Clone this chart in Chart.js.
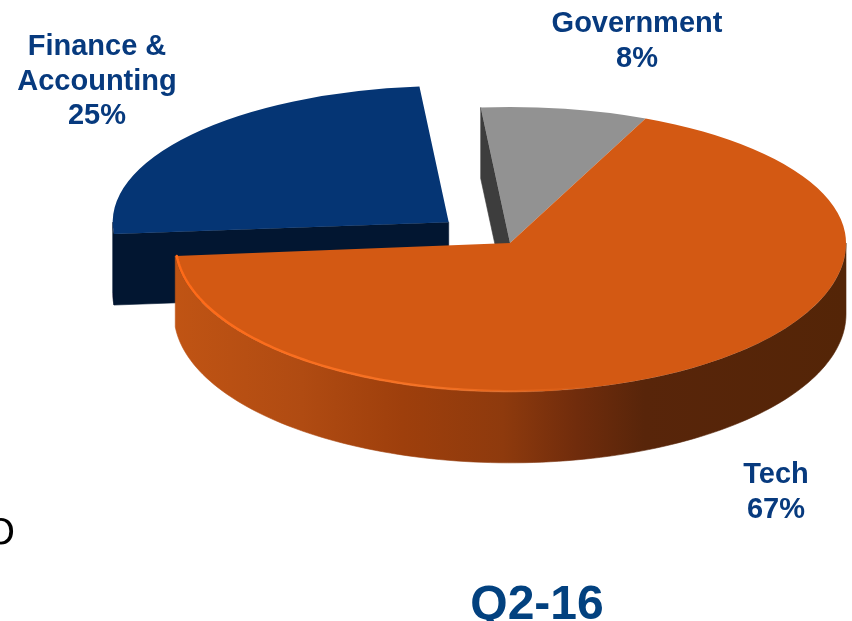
<!DOCTYPE html>
<html>
<head>
<meta charset="utf-8">
<title>Q2-16</title>
<script src="https://cdn.jsdelivr.net/npm/chart.js@4"></script>
<style>
  html, body { margin: 0; background: #fff; overflow: hidden; }
  canvas { display: block; }
</style>
</head>
<body>
<canvas id="pie" width="852" height="621"></canvas>
<script>
// chart data
const categories = ["Finance & Accounting", "Government", "Tech"]
const categoryLines = [["Finance &", "Accounting"], ["Government"], ["Tech"]]
const shares = [25, 8, 67]
const period = "Q2-16"

// look of the tilted pie
const topColors = ["#053574", "#929292", "#d35913"]
const wallColors = ["#021631", "#3d3d3d", null]
const labelFont = "bold 29px 'Liberation Sans', Arial, sans-serif"
const labelColor = "#073a7e"
const pieX = 510
const pieY = 243
const backTilt = 0.405 // y squash above the centre
const frontTilt = 0.443 // y squash below the centre, slightly more open
const depth = 71

// point on a slice, in page pixels
function rimPoint(arc, angle, radius) {
  const shift = (arc.options.offset || 0) / 4
  const mid = (arc.startAngle + arc.endAngle) / 2
  const flatY = Math.sin(mid) * shift + Math.sin(angle) * radius
  return {
    x: pieX + Math.cos(mid) * shift + Math.cos(angle) * radius,
    y: pieY + flatY * (flatY < 0 ? backTilt : frontTilt),
  }
}

function techWallGradient(ctx) {
  const g = ctx.createLinearGradient(174, 0, 846, 0)
  g.addColorStop(0, "#c05414")
  g.addColorStop(0.19, "#b04b12")
  g.addColorStop(0.34, "#9e3f0c")
  g.addColorStop(0.49, "#8e3a0d")
  g.addColorStop(0.6, "#702c0c")
  g.addColorStop(0.7, "#58250a")
  g.addColorStop(1, "#542507")
  return g
}

function fillPolygon(ctx, points, fill) {
  ctx.beginPath()
  points.forEach((p, i) => (i ? ctx.lineTo(p.x, p.y) : ctx.moveTo(p.x, p.y)))
  ctx.closePath()
  ctx.fillStyle = fill
  ctx.fill()
  ctx.strokeStyle = fill
  ctx.lineWidth = 0.6
  ctx.stroke()
}

// side faces of one slice: the cut edge and the round rim that look forward
function drawWalls(ctx, arc, fill) {
  const start = arc.startAngle
  const end = arc.endAngle
  const r = arc.outerRadius

  if (-Math.cos(start) > 0) {
    const a = rimPoint(arc, start, 0)
    const b = rimPoint(arc, start, r)
    fillPolygon(ctx, [a, b, { x: b.x, y: b.y + depth }, { x: a.x, y: a.y + depth }], fill)
  }

  // arc angles keep counting past a full turn, so the front half shows up twice
  const fronts = [0, 2 * Math.PI]
  fronts.forEach((f) => {
    const from = Math.max(start, f)
    const to = Math.min(end, f + Math.PI)
    if (to <= from) return
    const upper = []
    const lower = []
    for (let i = 0; i <= 120; i++) {
      const p = rimPoint(arc, from + ((to - from) * i) / 120, r)
      upper.push(p)
      lower.unshift({ x: p.x, y: p.y + depth })
    }
    fillPolygon(ctx, upper.concat(lower), fill)
  })
}

// thin light edge on the front left of the big slice
function drawHighlight(ctx, arc) {
  const g = ctx.createLinearGradient(174, 0, 600, 0)
  g.addColorStop(0, "rgba(255,106,24,1)")
  g.addColorStop(0.6, "rgba(255,120,40,0.75)")
  g.addColorStop(1, "rgba(255,120,40,0)")
  ctx.beginPath()
  for (let deg = 175; deg >= 70; deg--) {
    const p = rimPoint(arc, (deg * Math.PI) / 180, arc.outerRadius - 1.5)
    deg === 175 ? ctx.moveTo(p.x, p.y) : ctx.lineTo(p.x, p.y)
  }
  ctx.strokeStyle = g
  ctx.lineWidth = 2.5
  ctx.lineCap = "round"
  ctx.stroke()
}

// the pie is a normal doughnut controller layout, squashed when painted
const tiltedPie = {
  id: "tiltedPie",
  beforeDatasetsDraw(chart) {
    const ctx = chart.ctx
    const arcs = chart.getDatasetMeta(0).data
    arcs.forEach((arc, i) => {
      drawWalls(ctx, arc, wallColors[i] || techWallGradient(ctx))
    })
    const halves = [
      { y: 0, h: pieY, tilt: backTilt },
      { y: pieY, h: chart.height - pieY, tilt: frontTilt },
    ]
    halves.forEach((half) => {
      ctx.save()
      ctx.beginPath()
      ctx.rect(0, half.y, chart.width, half.h)
      ctx.clip()
      ctx.translate(pieX, pieY)
      ctx.scale(1, half.tilt)
      ctx.translate(-arcs[0].x, -arcs[0].y)
      arcs.forEach((arc) => arc.draw(ctx))
      ctx.restore()
    })
    drawHighlight(ctx, arcs[2])
    return false
  },
  afterDraw(chart) {
    const ctx = chart.ctx
    const spots = [
      { x: 97, y: 47 },
      { x: 637, y: 24 },
      { x: 776, y: 475 },
    ]
    ctx.save()
    ctx.textAlign = "center"
    ctx.textBaseline = "middle"
    ctx.font = labelFont
    ctx.fillStyle = labelColor
    categoryLines.forEach((lines, i) => {
      lines.concat(shares[i] + "%").forEach((line, n) => {
        ctx.fillText(line, spots[i].x, spots[i].y + n * 34.5)
      })
    })
    ctx.textBaseline = "alphabetic"
    ctx.font = "bold 48px 'Liberation Sans', Arial, sans-serif"
    ctx.fillStyle = "#02417f"
    ctx.fillText(period, 537, 619)
    // stray letter cut by the left edge
    ctx.font = "36px 'DejaVu Sans', sans-serif"
    ctx.fillStyle = "#000"
    ctx.textAlign = "right"
    ctx.fillText("O", 15, 544)
    ctx.restore()
  },
}

new Chart(document.querySelector("#pie"), {
  type: "pie",
  data: {
    labels: categories,
    datasets: [
      {
        data: shares,
        backgroundColor: topColors,
        borderWidth: 0,
        offset: [320, 0, 0],
        clip: false,
      },
    ],
  },
  options: {
    responsive: false,
    animation: false,
    events: [],
    rotation: 265,
    radius: 336,
    plugins: {
      legend: { display: false },
      tooltip: { enabled: false },
    },
  },
  plugins: [tiltedPie],
})
</script>
</body>
</html>
